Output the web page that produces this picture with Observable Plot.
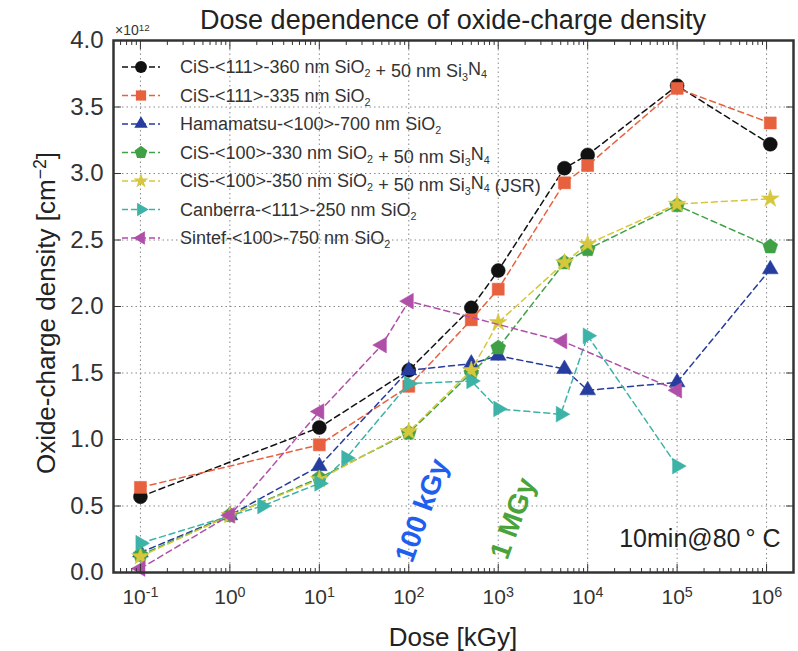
<!DOCTYPE html>
<html><head><meta charset="utf-8">
<script src="https://cdn.jsdelivr.net/npm/d3@7"></script>
<script src="https://cdn.jsdelivr.net/npm/@observablehq/plot@0.6"></script>
<style>
body{margin:0;background:#fff;}
#chart{position:relative;width:798px;height:651px;font-family:"Liberation Sans",Arial,sans-serif;}
</style></head><body><div id="chart"></div>
<script>
// ---- data ----
const seriesNames = [
  "CiS-<111>-360 nm SiO2 + 50 nm Si3N4",
  "CiS-<111>-335 nm SiO2",
  "Hamamatsu-<100>-700 nm SiO2",
  "CiS-<100>-330 nm SiO2 + 50 nm Si3N4",
  "CiS-<100>-350 nm SiO2 + 50 nm Si3N4 (JSR)",
  "Canberra-<111>-250 nm SiO2",
  "Sintef-<100>-750 nm SiO2"
];
const seriesColors = ["#111111", "#e8613f", "#263c9e", "#3fa046", "#d6c73c", "#3db3a8", "#b04fa8"];

const doseCis111N = [0.1, 10, 100, 500, 1000, 5500, 10000, 1e5, 1.1e6];
const valCis111N  = [0.57, 1.09, 1.52, 1.99, 2.27, 3.04, 3.14, 3.66, 3.22];
const doseCis111  = [0.1, 10, 100, 500, 1000, 5500, 10000, 1e5, 1.1e6];
const valCis111   = [0.64, 0.96, 1.40, 1.90, 2.13, 2.93, 3.06, 3.64, 3.38];
const doseHama    = [0.1, 1, 10, 100, 500, 1000, 5500, 10000, 1e5, 1.1e6];
const valHama     = [0.15, 0.43, 0.80, 1.52, 1.57, 1.63, 1.53, 1.37, 1.43, 2.28];
const doseCis100N = [0.1, 1, 10, 100, 500, 1000, 5500, 10000, 1e5, 1.1e6];
const valCis100N  = [0.13, 0.43, 0.71, 1.05, 1.50, 1.69, 2.33, 2.43, 2.76, 2.45];
const doseJSR     = [0.1, 1, 10, 100, 500, 1000, 5500, 10000, 1e5, 1.1e6];
const valJSR      = [0.12, 0.43, 0.70, 1.06, 1.52, 1.88, 2.33, 2.47, 2.77, 2.81];
const doseCanb    = [0.1, 2.3, 10, 20, 100, 500, 1000, 5000, 10000, 1e5];
const valCanb     = [0.22, 0.50, 0.67, 0.86, 1.42, 1.44, 1.23, 1.19, 1.78, 0.80];
const doseSintef  = [0.1, 1, 10, 50, 100, 5200, 1e5];
const valSintef   = [0.03, 0.43, 1.21, 1.71, 2.04, 1.74, 1.37];

const seriesDose = [doseCis111N, doseCis111, doseHama, doseCis100N, doseJSR, doseCanb, doseSintef];
const seriesVal  = [valCis111N, valCis111, valHama, valCis100N, valJSR, valCanb, valSintef];

const xMajor = [0.1, 1, 10, 100, 1000, 1e4, 1e5, 1e6];
const xMinor = [];
for (let e = -2; e <= 6; e++) for (let m = 2; m <= 9; m++) { const v = m * Math.pow(10, e); if (v > 0.05 && v < 2e6) xMinor.push(v); }
const yTicks = [0, 0.5, 1, 1.5, 2, 2.5, 3, 3.5, 4];

const annotText = ["100 kGy", "1 MGy"];
const annotDose = [141, 1470];
const annotVal  = [0.466, 0.406];
const annotColor = ["#1f5ff0", "#4aa33a"];
const noteText = "10min@80\u2009° C";

// ---- symbols ----
const deg = Math.PI / 180;
function polySymbol(angles, scale) {
  return {draw(ctx, size) {
    const r = Math.sqrt(size / Math.PI) * scale;
    angles.forEach((a, i) => { const x = r * Math.cos(a * deg), y = r * Math.sin(a * deg); i ? ctx.lineTo(x, y) : ctx.moveTo(x, y); });
    ctx.closePath();
  }};
}
const seriesSymbols = [
  d3.symbolCircle,
  d3.symbolSquare,
  polySymbol([-90, 30, 150], 1.3),
  polySymbol([-90, -18, 54, 126, 198], 1.12),
  d3.symbolStar,
  polySymbol([0, 120, 240], 1.3),
  polySymbol([180, 300, 60], 1.3)
];
const seriesR = [7, 6.8, 7, 7, 5.6, 7, 7];

const rows = seriesNames.map((name, i) => seriesDose[i].map((d, j) => ({series: name, dose: d, value: seriesVal[i][j]})));
const annots = annotText.map((t, i) => ({t, x: annotDose[i], y: annotVal[i], c: annotColor[i]}));

const seriesMarks = [];
rows.forEach((r, i) => {
  seriesMarks.push(Plot.line(r, {x: "dose", y: "value", stroke: seriesColors[i], strokeWidth: 1.5, strokeDasharray: "6,4"}));
  seriesMarks.push(Plot.dot(r, {x: "dose", y: "value", symbol: seriesSymbols[i], r: seriesR[i], fill: seriesColors[i], stroke: seriesColors[i], strokeWidth: 0.5}));
});

const FONT = "Liberation Sans, Arial, sans-serif";
const chart = Plot.plot({
  width: 798, height: 651,
  marginLeft: 113, marginRight: 5, marginTop: 40, marginBottom: 79,
  x: {type: "log", domain: [0.05, 2e6]},
  y: {domain: [0, 4]},
  style: {fontFamily: FONT, background: "white", overflow: "visible"},
  marks: [
    Plot.gridX(xMajor, {stroke: "#888", strokeOpacity: 1, strokeDasharray: "1.5,3"}),
    Plot.gridY(yTicks, {stroke: "#888", strokeOpacity: 1, strokeDasharray: "1.5,3"}),
    ...seriesMarks,
    Plot.text(annots, {x: "x", y: "y", text: "t", fill: "c", rotate: -70, fontSize: 28, fontWeight: "bold", textAnchor: "middle", lineAnchor: "middle"}),
    Plot.text([noteText], {frameAnchor: "bottom-right", text: d => d, dx: -13, dy: -26, fontSize: 25, fill: "#222", textAnchor: "end", lineAnchor: "bottom"}),
    Plot.axisX(xMajor, {anchor: "bottom", tickSize: -8, fill: "none", stroke: "#333", label: null}),
    Plot.axisX(xMajor, {anchor: "top", tickSize: -8, fill: "none", stroke: "#333", label: null}),
    Plot.axisX(xMinor, {anchor: "bottom", tickSize: -4, fill: "none", stroke: "#333", label: null}),
    Plot.axisX(xMinor, {anchor: "top", tickSize: -4, fill: "none", stroke: "#333", label: null}),
    Plot.axisY(yTicks, {anchor: "left", tickSize: -8, fill: "none", stroke: "#333", label: null}),
    Plot.axisY(yTicks, {anchor: "right", tickSize: -8, fill: "none", stroke: "#333", label: null}),
    Plot.axisX(xMajor, {anchor: "bottom", tickSize: 0, tickPadding: 17, fontSize: 21, fill: "#333", label: null,
      tickFormat: d => "10^" + Math.round(Math.log10(d))}),
    Plot.axisY(yTicks, {anchor: "left", tickSize: 0, tickPadding: 10, fontSize: 24, fill: "#333", label: null,
      tickFormat: d3.format(".1f")}),
    Plot.frame({stroke: "#333", strokeWidth: 2.5})
  ]
});

const svg = d3.select(chart);
// superscripts in x tick labels
svg.selectAll("text").each(function() {
  const t = this.textContent;
  if (t.startsWith("10^")) {
    const e = t.slice(3);
    this.textContent = "10";
    d3.select(this).append("tspan").attr("dy", "-0.5em").attr("font-size", "0.68em").text(e);
  }
});

// title
svg.append("text").attr("x", 453).attr("y", 29).attr("text-anchor", "middle")
  .attr("font-size", 27).attr("fill", "#222").attr("font-family", FONT)
  .text("Dose dependence of oxide-charge density");
// multiplier
const mult = svg.append("text").attr("x", 115).attr("y", 35).attr("text-anchor", "start").attr("font-size", 14).attr("fill", "#333").attr("font-family", FONT);
mult.append("tspan").text("×10");
mult.append("tspan").attr("dy", "-0.45em").attr("font-size", "0.7em").text("12");
// x label
svg.append("text").attr("x", 453).attr("y", 646).attr("text-anchor", "middle")
  .attr("font-size", 26).attr("fill", "#222").attr("font-family", FONT).text("Dose [kGy]");
// y label
const yl = svg.append("text").attr("transform", "translate(55,313) rotate(-90)").attr("text-anchor", "middle")
  .attr("font-size", 26).attr("fill", "#222").attr("font-family", FONT);
yl.append("tspan").text("Oxide-charge density [cm");
yl.append("tspan").attr("dy", "-0.5em").attr("font-size", "0.68em").text("−2");
yl.append("tspan").attr("dy", "0.34em").text("]");

// legend
const lg = svg.append("g").attr("font-family", FONT).attr("text-anchor", "start");
seriesNames.forEach((name, i) => {
  const y = 67 + 28.5 * i;
  lg.append("line").attr("x1", 122).attr("x2", 160).attr("y1", y).attr("y2", y)
    .attr("stroke", seriesColors[i]).attr("stroke-width", 1.5).attr("stroke-dasharray", "6,3");
  lg.append("path").attr("transform", `translate(141,${y})`)
    .attr("d", d3.symbol(seriesSymbols[i], Math.PI * Math.pow(seriesR[i] * 0.85, 2))())
    .attr("fill", seriesColors[i]);
  const tx = lg.append("text").attr("x", 180).attr("y", y).attr("dy", "0.35em")
    .attr("text-anchor", "start").attr("font-size", 18).attr("fill", "#333");
  name.split(/(SiO2|Si3N4)/).forEach(part => {
    if (part === "SiO2") {
      tx.append("tspan").text("SiO");
      tx.append("tspan").attr("dy", "0.35em").attr("font-size", "0.6em").text("2");
      tx.append("tspan").attr("dy", "-0.35em").text("");
    } else if (part === "Si3N4") {
      tx.append("tspan").text("Si");
      tx.append("tspan").attr("dy", "0.35em").attr("font-size", "0.6em").text("3");
      tx.append("tspan").attr("dy", "-0.35em").text("N");
      tx.append("tspan").attr("dy", "0.35em").attr("font-size", "0.6em").text("4");
      tx.append("tspan").attr("dy", "-0.35em").text("");
    } else if (part) {
      tx.append("tspan").text(part);
    }
  });
});

document.getElementById("chart").appendChild(chart);
</script></body></html>
